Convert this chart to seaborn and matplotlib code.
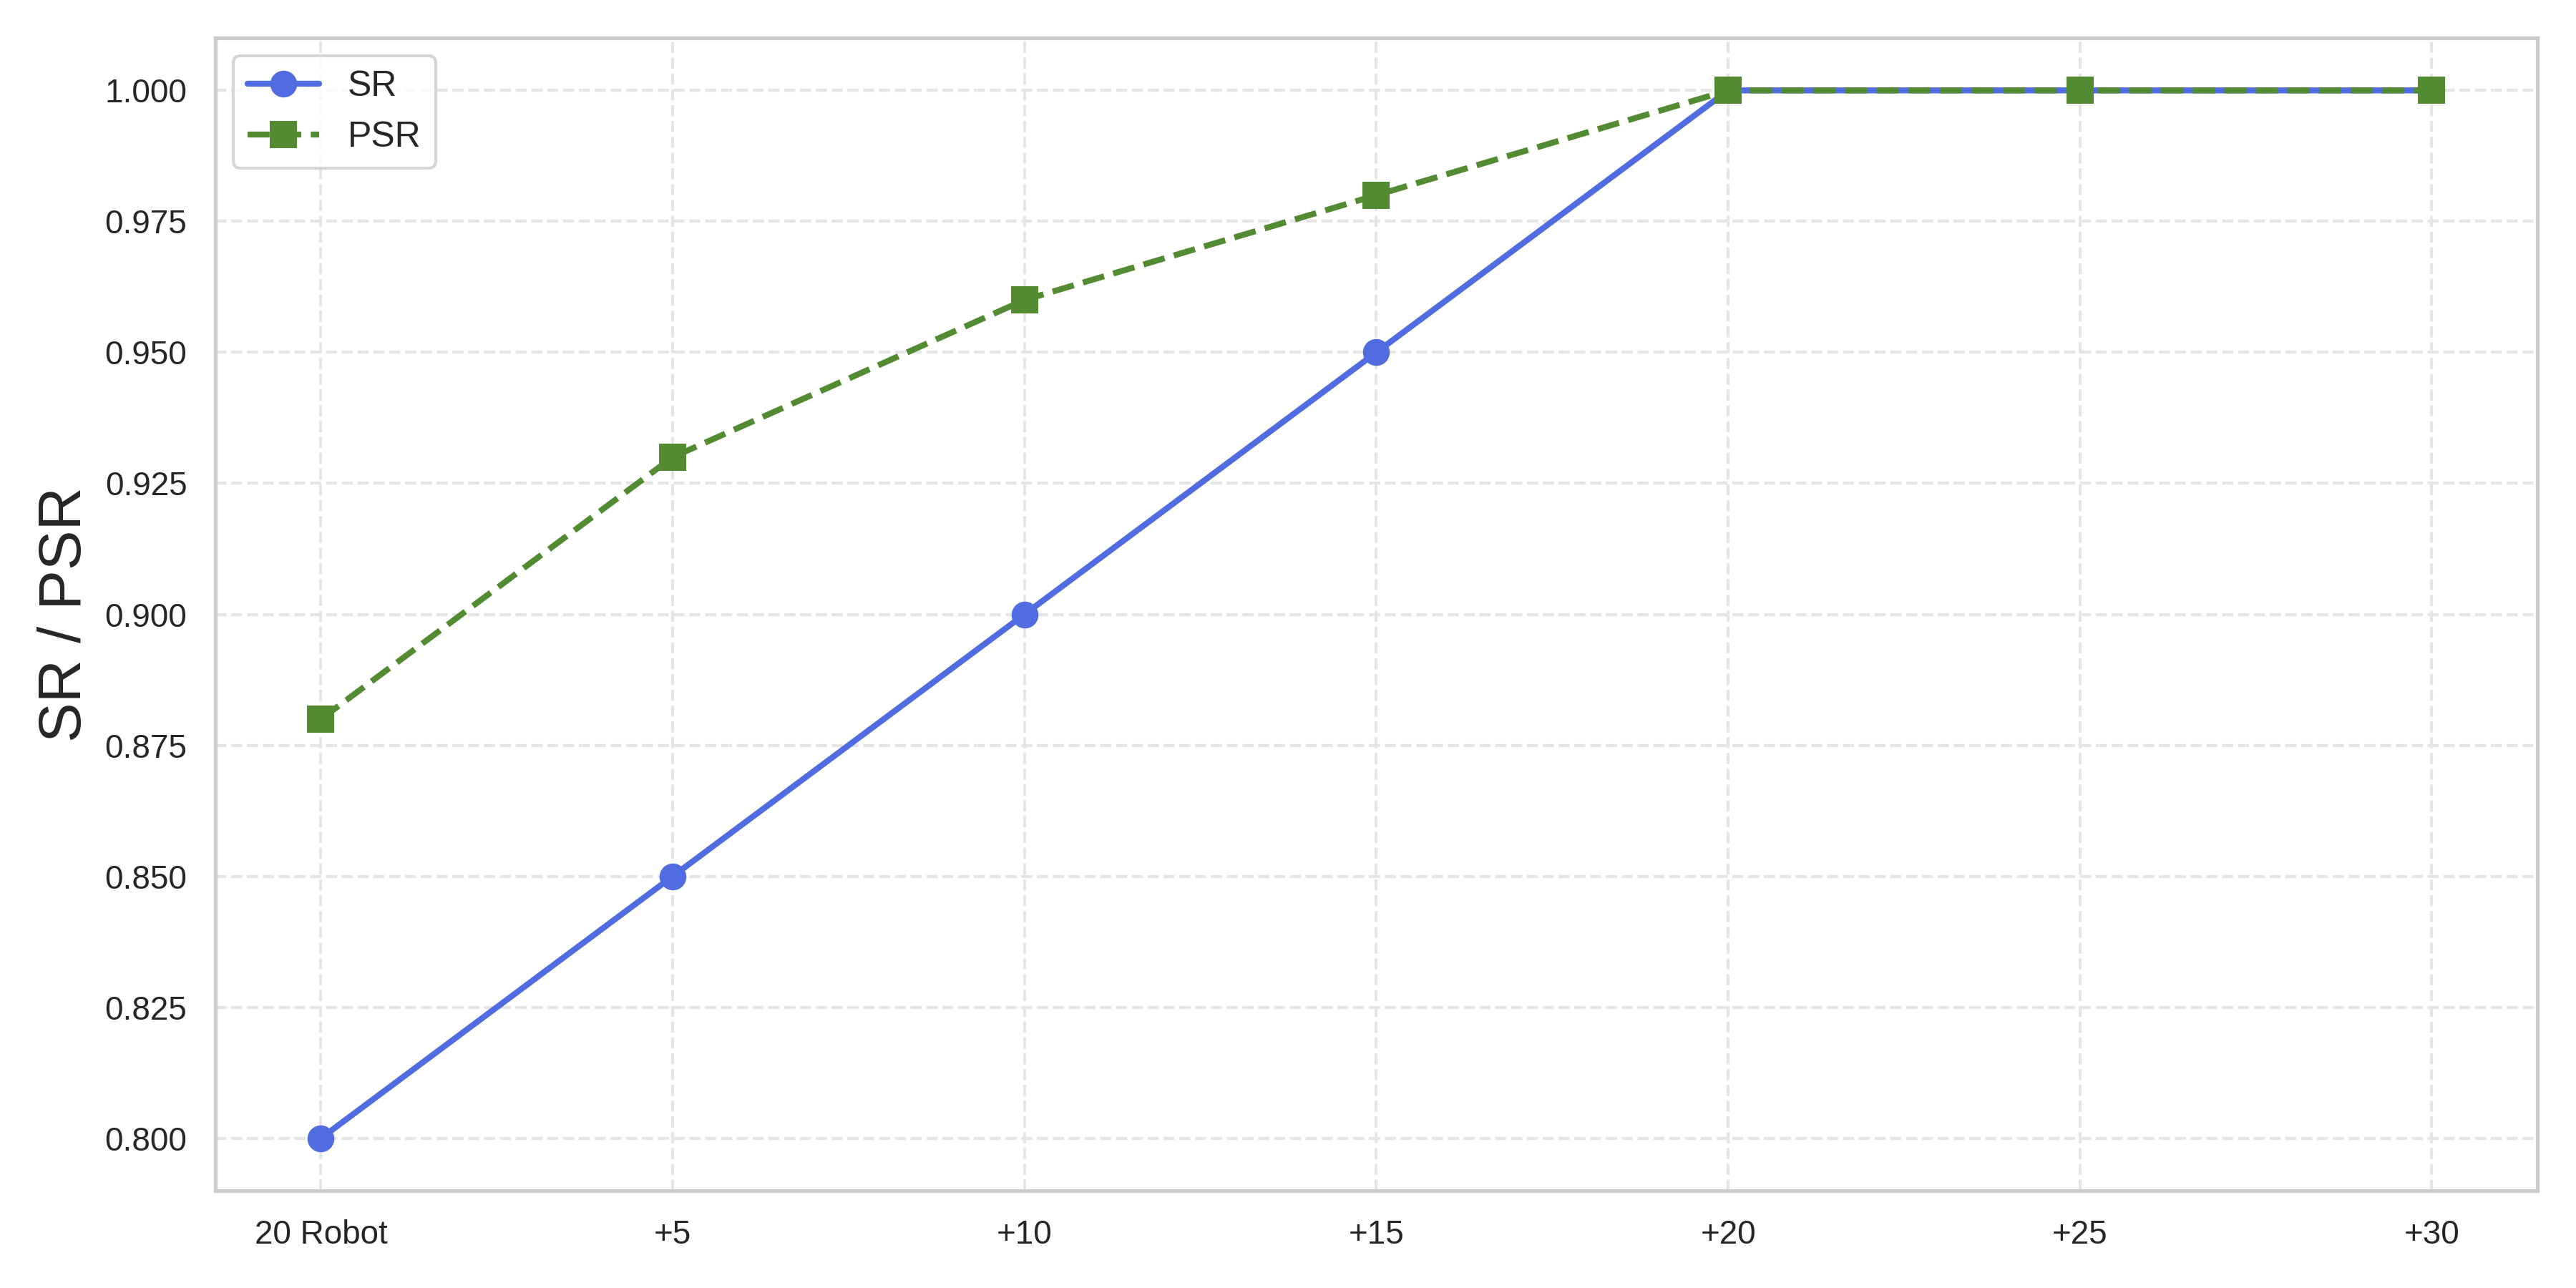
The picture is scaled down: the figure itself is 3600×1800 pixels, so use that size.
import matplotlib
matplotlib.use("Agg")
import matplotlib.pyplot as plt
import seaborn as sns
import pandas as pd

categories = ["20 Robot", "+5", "+10", "+15", "+20", "+25", "+30"]
sr_values = [0.80, 0.85, 0.90, 0.95, 1.00, 1.00, 1.00]
psr_values = [0.88, 0.93, 0.96, 0.98, 1.00, 1.00, 1.00]

sns.set_theme(style="whitegrid")
plt.rcParams['font.family'] = ['Liberation Sans', 'DejaVu Sans']

df = pd.DataFrame({"x": list(range(len(categories))), "SR": sr_values, "PSR": psr_values})

fig, ax = plt.subplots(figsize=(12, 6), dpi=300)
sns.lineplot(data=df, x="x", y="SR", ax=ax, color="#516BE0", marker="o",
             markersize=9, linewidth=2, linestyle="-", label="SR", markeredgewidth=0)
sns.lineplot(data=df, x="x", y="PSR", ax=ax, color="#538B32", marker="s",
             markersize=9, linewidth=2, linestyle="--", label="PSR", markeredgewidth=0)

ax.set_xticks(range(len(categories)))
ax.set_xticklabels(categories, fontsize=11)
ax.tick_params(axis='y', labelsize=11)
ax.yaxis.set_major_formatter(matplotlib.ticker.FormatStrFormatter('%.3f'))
ax.set_xlabel("")
ax.set_ylabel("SR / PSR", fontsize=20)
ax.grid(True, linestyle="--", color="#e5e5e5", linewidth=1)
for s in ax.spines.values():
    s.set_color("#cccccc")
ax.legend(loc="upper left", fontsize=12)
fig.subplots_adjust(left=0.0836, right=0.985, top=0.9705, bottom=0.0756)
fig.savefig("out.png", dpi=300)
